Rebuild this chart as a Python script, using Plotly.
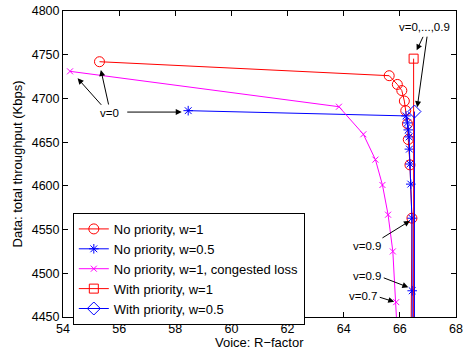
import plotly.graph_objects as go

# No priority, w=1 (v = 0..0.9, then continuation below the axis)
np_w1_x = [55.3, 65.62, 65.91, 66.07, 66.16, 66.21, 66.27, 66.30, 66.36, 66.43, 66.39]
np_w1_y = [4742, 4726, 4716, 4709, 4697, 4686, 4671, 4653, 4624, 4563, 4380]
# No priority, w=0.5
np_w05_x = [58.46, 66.22, 66.27, 66.30, 66.33, 66.34, 66.36, 66.39, 66.43, 66.44, 66.44]
np_w05_y = [4686, 4680, 4672, 4664, 4656, 4642, 4625, 4602, 4563, 4480, 4380]
# No priority, w=1, congested loss
cl_x = [54.25, 63.83, 64.70, 65.13, 65.38, 65.58, 65.75, 65.87, 65.98, 66.08]
cl_y = [4731, 4690.5, 4659, 4630, 4601, 4567, 4525, 4467, 4400, 4330]
# With priority, w=1
wp_w1_x = [66.49, 66.49]
wp_w1_y = [4745.5, 4380]
# With priority, w=0.5
wp_w05_x = [66.52, 66.52]
wp_w05_y = [4685, 4380]

x_ticks = [54, 56, 58, 60, 62, 64, 66, 68]
y_ticks = [4450, 4500, 4550, 4600, 4650, 4700, 4750, 4800]

FONT = "Liberation Sans, Arial, sans-serif"

fig = go.Figure()

def add(x, y, name, color, symbol, size):
    fig.add_trace(go.Scatter(
        x=x, y=y, name=name, mode="lines+markers",
        line=dict(color=color, width=1),
        marker=dict(symbol=symbol, size=size, color=color,
                    line=dict(color=color, width=1)),
    ))

add(np_w1_x, np_w1_y, "No priority, w=1", "#ff0000", "circle-open", 10)
add(np_w05_x, np_w05_y, "No priority, w=0.5", "#0000ff", "asterisk-open", 8)
add(cl_x, cl_y, "No priority, w=1, congested loss", "#ff00ff", "x-thin-open", 6)
add(wp_w1_x, wp_w1_y, "With priority, w=1", "#ff0000", "square-open", 9)
add(wp_w05_x, wp_w05_y, "With priority, w=0.5", "#0000ff", "diamond-open", 10)

ann_font = dict(family=FONT, size=11.5, color="black")
arrow = dict(showarrow=True, arrowhead=2, arrowsize=1.2, arrowwidth=1,
             arrowcolor="black", text="", xref="x", yref="y")

annotations = [
    dict(x=55.67, y=4683.3, text="v=0", showarrow=False, font=ann_font),
    dict(arrow, x=55.35, y=4732.5, ax=8, ay=36),
    dict(arrow, x=54.52, y=4723, ax=25, ay=28),
    dict(arrow, x=58.23, y=4684.4, ax=-56, ay=0),
    dict(x=66.88, y=4782, text="v=0,...,0.9", showarrow=False, font=ann_font),
    dict(arrow, x=66.6, y=4755, ax=7, ay=-15),
    dict(arrow, x=66.62, y=4690, ax=10, ay=-72),
    dict(x=64.82, y=4531, text="v=0.9", showarrow=False, font=ann_font),
    dict(arrow, x=66.36, y=4560, ax=-29, ay=18),
    dict(x=64.82, y=4497, text="v=0.9", showarrow=False, font=ann_font),
    dict(arrow, x=66.30, y=4484, ax=-26, ay=-10),
    dict(x=64.70, y=4474, text="v=0.7", showarrow=False, font=ann_font),
    dict(arrow, x=65.80, y=4467.4, ax=-16, ay=-5),
    dict(x=0.5, y=0, xref="paper", yref="paper", yanchor="middle",
         yshift=-25, text="Voice: R\u2212factor", showarrow=False,
         font=dict(family=FONT, size=13, color="black")),
]

axis_common = dict(
    showgrid=False, zeroline=False, showline=True, linecolor="black",
    linewidth=1, mirror="ticks", ticks="inside", ticklen=5,
    tickcolor="black", tickfont=dict(family=FONT, size=12.5, color="black"),
    automargin=False, ticklabeloverflow="allow",
)

fig.update_layout(
    width=466, height=354, autosize=False,
    margin=dict(l=63, r=10, t=11, b=37),
    paper_bgcolor="white", plot_bgcolor="white",
    font=dict(family=FONT, size=13, color="black"),
    annotations=annotations,
    xaxis=dict(axis_common, range=[54, 68], tickvals=x_ticks),
    yaxis=dict(axis_common, range=[4450, 4800], tickvals=y_ticks,
               title=dict(text="Data: total throughput (Kbps)", standoff=6,
                          font=dict(family=FONT, size=13))),
    legend=dict(x=0.025, y=0.34, xanchor="left", yanchor="top",
                bgcolor="white", bordercolor="black", borderwidth=1,
                font=dict(family=FONT, size=13), tracegroupgap=0,
                itemwidth=30),
    showlegend=True,
)

fig.write_html(
    "out.html",
    config={"displayModeBar": False, "responsive": False},
    post_script="document.body.style.margin='0';document.body.style.overflow='hidden';",
)
